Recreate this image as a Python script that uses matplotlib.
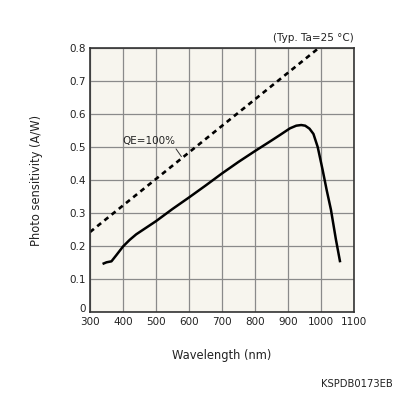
import matplotlib
matplotlib.use("Agg")
import matplotlib.pyplot as plt
import matplotlib.transforms as mtransforms

# photo sensitivity curve
wavelength = [338, 350, 365, 380, 400, 420, 440, 470, 500, 550, 600, 650, 700, 750, 800,
              850, 876, 906, 925, 940, 952, 965, 977, 990, 1005, 1017, 1030, 1045, 1058]
sensitivity = [0.145, 0.150, 0.153, 0.172, 0.198, 0.218, 0.235, 0.255, 0.275, 0.312, 0.347,
               0.383, 0.420, 0.455, 0.488, 0.520, 0.537, 0.557, 0.565, 0.567, 0.565, 0.556,
               0.540, 0.500, 0.430, 0.370, 0.310, 0.220, 0.150]

# QE=100% reference line end points
qe_wavelength = [300, 992]
qe_value = [300 / 1240, 992 / 1240]

xticks = [300, 400, 500, 600, 700, 800, 900, 1000, 1100]
yticks = [0, 0.1, 0.2, 0.3, 0.4, 0.5, 0.6, 0.7, 0.8]

fig = plt.figure(figsize=(3.96, 3.96), dpi=100)
ax = fig.add_axes([0.2273, 0.2129, 0.894 - 0.2273, 0.878 - 0.2129])
ax.set_facecolor("#f7f5ee")

ax.plot(qe_wavelength, qe_value, color="black", lw=1.9, dashes=(1.9, 1.6))
ax.plot(wavelength, sensitivity, color="black", lw=1.8, solid_capstyle="butt")

ax.annotate("QE=100%", xy=(577, 0.471), xytext=(399, 0.509),
            fontsize=7.5, color="#222222", va="baseline", ha="left",
            arrowprops=dict(arrowstyle="-", color="#333333", lw=0.7,
                            shrinkA=0, shrinkB=0,
                            relpos=(0.97, 0.0)))

ax.set_xlim(300, 1100)
ax.set_ylim(0, 0.8)
ax.set_xticks(xticks)
ax.set_yticks(yticks)
ax.set_xticklabels([str(t) for t in xticks])
ax.set_yticklabels(["0"] + ["%.1f" % t for t in yticks[1:]])
ax.tick_params(length=0, labelsize=7.5, colors="#222222")
ax.tick_params(axis="x", pad=4)
ax.tick_params(axis="y", pad=3)
ax.grid(True, color="#8a8a8a", lw=0.9)
ax.set_axisbelow(True)
for s in ax.spines.values():
    s.set_color("#333333")
    s.set_linewidth(1.2)

# nudge the "0" tick label up a bit, as in the datasheet
zero_lbl = ax.get_yticklabels()[0]
zero_lbl.set_transform(zero_lbl.get_transform() +
                       mtransforms.ScaledTranslation(0, 3 / 72, fig.dpi_scale_trans))

ax.set_xlabel("Wavelength (nm)", fontsize=8.3, color="#222222", labelpad=16)
ax.set_ylabel("Photo sensitivity (A/W)", fontsize=8.3, color="#222222", labelpad=19)

fig.text(0.894, 0.892, "(Typ. Ta=25 °C)", fontsize=7.5, color="#222222",
         ha="right", va="bottom")
fig.text(0.992, 0.018, "KSPDB0173EB", fontsize=7.2, color="#222222",
         ha="right", va="bottom")

fig.savefig("out.png", dpi=100)
